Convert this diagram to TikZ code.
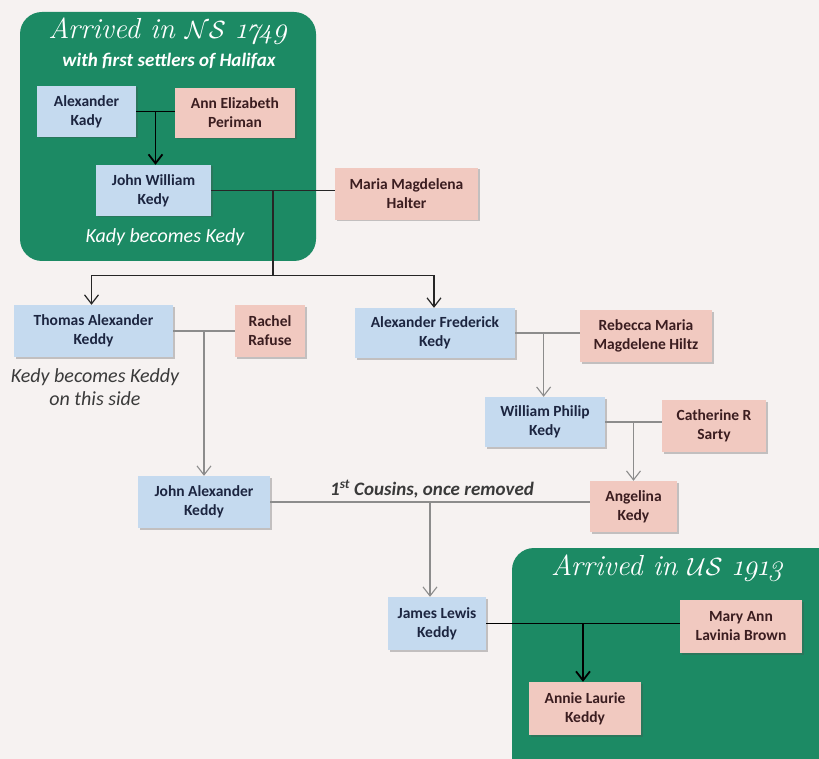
\documentclass[tikz,border=0pt]{standalone}
\usepackage{fontspec}
\newfontfamily\boxfont{Carlito}
\newfontfamily\titlefont[Numbers=OldStyle]{Latin Modern Roman}
\usetikzlibrary{arrows.meta,shadows,calc}
\definecolor{bgc}{HTML}{F6F2F1}
\definecolor{greenc}{HTML}{1C8A64}
\definecolor{bluec}{HTML}{C5DAEF}
\definecolor{pinkc}{HTML}{F1C9C0}
\definecolor{bluetext}{HTML}{1C2540}
\definecolor{pinktext}{HTML}{3B1D20}
\definecolor{grayline}{HTML}{8C8C8C}
\definecolor{notetext}{HTML}{3A3A3A}
\begin{document}
\begin{tikzpicture}[x=1pt,y=-1pt,
  person/.style={inner sep=0pt, align=center,
    font=\boxfont\bfseries\fontsize{15.5}{19}\selectfont,
    drop shadow={shadow xshift=1.5pt, shadow yshift=-1.5pt, opacity=0.3, fill=black!70}},
  male/.style={person, fill=bluec, text=bluetext},
  female/.style={person, fill=pinkc, text=pinktext},
  panel/.style={fill=greenc, rounded corners=22pt},
  title/.style={text=white, font=\titlefont\itshape\fontsize{29}{32}\selectfont},
  subtitle/.style={text=white, font=\boxfont\bfseries\itshape\fontsize{19}{22}\selectfont},
  note/.style={text=notetext, align=center, font=\boxfont\itshape\fontsize{20}{23}\selectfont},
  blackline/.style={draw=black, line width=1.8pt},
  thinblack/.style={draw=black!85, line width=1.2pt},
  grayl/.style={draw=grayline, line width=1.1pt},
  blackarr/.style={blackline, -{Straight Barb[length=9pt,width=14pt,line width=1.8pt]}},
  thinarr/.style={thinblack, -{Straight Barb[length=9pt,width=14pt,line width=1.2pt]}},
  grayarr/.style={grayl, -{Straight Barb[length=9pt,width=14pt,line width=1.1pt]}}
]
\clip (0,0) rectangle (819,759);
\fill[bgc] (0,0) rectangle (819,759);

% panels
\fill[panel] (20,12) rectangle (316,261);
\fill[panel] (512,548) rectangle (850,790);

\node[title] (t1) at (168,31) {Arrived in $\mathcal{NS}$ 1749};
\node[subtitle] (t1b) at (169,61) {with first settlers of Halifax};
\node[subtitle, font=\boxfont\itshape\fontsize{20}{23}\selectfont] (t1c) at (165,237) {Kady becomes Kedy};
\node[title] (t2) at (667,568) {Arrived in $\mathcal{US}$ 1913};

% people
\node[male, minimum width=99pt, minimum height=51pt] (ak) at (86.5,111.5) {Alexander\\Kady};
\node[female, minimum width=120pt, minimum height=50pt] (ae) at (235,113) {Ann Elizabeth\\Periman};
\node[male, minimum width=115pt, minimum height=51pt] (jw) at (153.5,190.5) {John William\\Kedy};
\node[female, minimum width=143pt, minimum height=52pt] (mm) at (406.5,194) {Maria Magdelena\\Halter};
\node[male, minimum width=159pt, minimum height=52pt] (tak) at (93.5,331) {Thomas Alexander\\Keddy};
\node[female, minimum width=70pt, minimum height=52pt] (rr) at (270,331) {Rachel\\Rafuse};
\node[male, minimum width=160pt, minimum height=50pt] (afk) at (435,333) {Alexander Frederick\\Kedy};
\node[female, minimum width=132pt, minimum height=52pt] (rm) at (646,336) {Rebecca Maria\\Magdelene Hiltz};
\node[male, minimum width=120pt, minimum height=50pt] (wp) at (545,422) {William Philip\\Kedy};
\node[female, minimum width=104pt, minimum height=52pt] (cs) at (714,426) {Catherine R\\Sarty};
\node[female, minimum width=87pt, minimum height=51pt] (ang) at (633.5,506.5) {Angelina\\Kedy};
\node[male, minimum width=132pt, minimum height=52pt] (jak) at (204,502) {John Alexander\\Keddy};
\node[male, minimum width=98pt, minimum height=53pt] (jl) at (437,623.5) {James Lewis\\Keddy};
\node[female, minimum width=122pt, minimum height=53pt] (ma) at (741,626.5) {Mary Ann\\Lavinia Brown};
\node[female, minimum width=112pt, minimum height=53pt] (al) at (585,708.5) {Annie Laurie\\Keddy};

% notes
\node[note] (n1) at (95,387) {Kedy becomes Keddy\\on this side};
\node[text=notetext, font=\boxfont\bfseries\itshape\fontsize{19}{22}\selectfont] (cous) at (432,489) {1\textsuperscript{st} Cousins, once removed};

% couple 1
\draw[blackline] (ak.east) -- (ak.east -| ae.west);
\coordinate (m1) at ($(ak.east)!0.5!(ak.east -| ae.west)$);
\draw[blackarr] (m1) -- (m1 |- jw.north);

% couple 2
\draw[thinblack] (jw.east) -- (jw.east -| mm.west);
\coordinate (m2) at ($(jw.east)!0.5!(jw.east -| mm.west)$);
\coordinate (sp) at ($(m2)+(0,85)$);
\draw[thinblack] (m2) -- (sp);
\draw[thinarr] (sp) -| ([xshift=-2pt]tak.north);
\draw[thinarr] (sp) -| ([xshift=-1pt]afk.north);

% couple 3
\draw[grayl] (tak.east) -- (tak.east -| rr.west);
\coordinate (m3) at ($(tak.east)!0.5!(tak.east -| rr.west)$);
\draw[grayarr] (m3) -- (m3 |- jak.north);

% couple 4
\draw[grayl] (afk.east) -- (afk.east -| rm.west);
\coordinate (m4) at ($(afk.east)!0.44!(afk.east -| rm.west)$);
\draw[grayarr] (m4) -- (m4 |- wp.north);

% couple 5
\draw[grayl] (wp.east) -- (wp.east -| cs.west);
\coordinate (m5) at ($(wp.east)!0.5!(wp.east -| cs.west)$);
\draw[grayarr] (m5) -- (m5 |- ang.north);

% couple 6
\draw[grayl] (jak.east) -- (jak.east -| ang.west);
\coordinate (m6) at ($(jak.east)!0.5!(jak.east -| ang.west)$);
\draw[grayarr] (m6) -- (m6 |- jl.north);

% couple 7
\draw[blackline] (jl.east) -- (jl.east -| ma.west);
\coordinate (m7) at ($(jl.east)!0.5!(jl.east -| ma.west)$);
\draw[blackarr] (m7) -- (m7 |- al.north);
\end{tikzpicture}
\end{document}
